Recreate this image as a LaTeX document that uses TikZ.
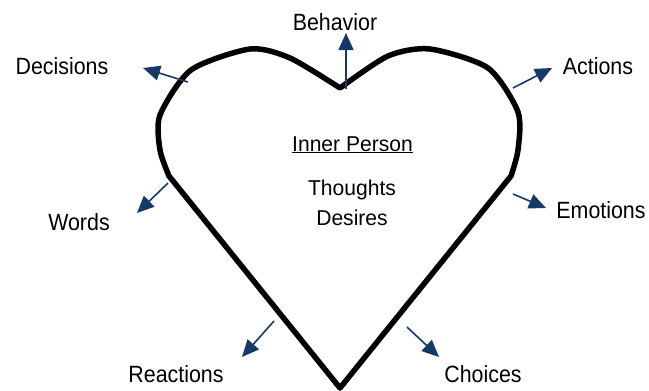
\documentclass[tikz,border=0pt]{standalone}
\usepackage{fontspec}
\setmainfont{Liberation Sans}
\newfontfamily\labfont[FakeStretch=0.91]{Liberation Sans}
\newfontfamily\innerfont[FakeStretch=0.98]{Liberation Sans}
\usetikzlibrary{arrows.meta}
\definecolor{navy}{RGB}{22,58,104}
\tikzset{
  outline/.style={line width=5.5pt, line join=round, line cap=round},
  pointer/.style={navy, line width=1.6pt, -{Triangle[length=17pt,width=15pt]}},
  label/.style={font=\labfont\fontsize{23.5}{26}\selectfont, anchor=base, inner sep=0pt},
  inner/.style={font=\innerfont\fontsize{21.5}{26}\selectfont, anchor=base, inner sep=0pt}
}
\begin{document}
\begin{tikzpicture}[x=1pt, y=-1pt]
\useasboundingbox (0,0) rectangle (649,391);

% heart outline
\draw[outline] (340,388) -- (169,176)
  -- plot[smooth, tension=0.45] coordinates {(169,176) (160,150) (160,115) (191,70) (250,49) (290,58) (340,88)}
  -- plot[smooth, tension=0.45] coordinates {(340,88) (388,56) (430,49) (488,68) (518,112) (518,150) (511,176)}
  -- cycle;

% labels
\node[label] (behavior)  at (335,30)  {Behavior};
\node[label] (decisions) at (62,74)   {Decisions};
\node[label] (actions)   at (598,74)  {Actions};
\node[label] (emotions)  at (601,218) {Emotions};
\node[label] (words)     at (79,230)  {Words};
\node[label] (reactions) at (176,382) {Reactions};
\node[label] (choices)   at (483,382) {Choices};

\node[inner] (innerperson) at (352.5,151) {\underline{Inner Person}};
\node[inner] (thoughts)    at (352,195)   {Thoughts};
\node[inner] (desires)     at (352,225)   {Desires};

% arrow ends
\coordinate (bA) at (346,89);  \coordinate (bB) at (346,33);
\coordinate (dA) at (188,82);  \coordinate (dB) at (143,68);
\coordinate (aA) at (513,88);  \coordinate (aB) at (552,68);
\coordinate (eA) at (513,194); \coordinate (eB) at (546,208);
\coordinate (wA) at (168,183); \coordinate (wB) at (137,213);
\coordinate (rA) at (274,321); \coordinate (rB) at (242,357);
\coordinate (cA) at (407,327); \coordinate (cB) at (439,357);

\draw[pointer] (bA) -- (bB);
\draw[pointer] (dA) -- (dB);
\draw[pointer] (aA) -- (aB);
\draw[pointer] (eA) -- (eB);
\draw[pointer] (wA) -- (wB);
\draw[pointer] (rA) -- (rB);
\draw[pointer] (cA) -- (cB);
\end{tikzpicture}
\end{document}
